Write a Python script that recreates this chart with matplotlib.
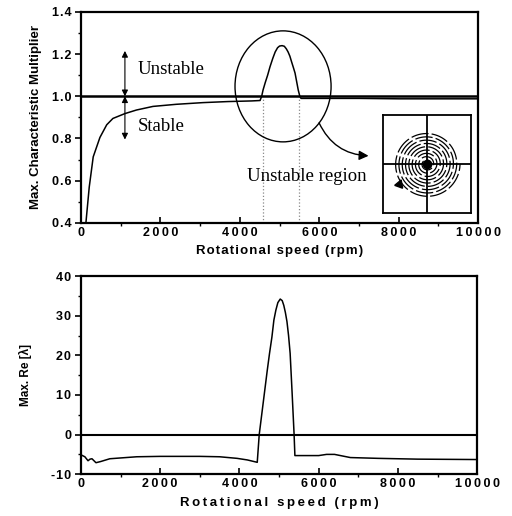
import numpy as np
import matplotlib
matplotlib.use("Agg")
import matplotlib.pyplot as plt
from matplotlib.patches import Ellipse, FancyArrowPatch
from matplotlib.ticker import FuncFormatter, MultipleLocator

# ---- data ----
rpm_top = [126, 210, 310, 479, 650, 806, 1108, 1400, 1814, 2400, 3073, 3700,
           4300, 4509, 4550, 4585, 4640, 4700, 4760, 4830, 4890, 4950, 5000,
           5063, 5120, 5170, 5215, 5260, 5300, 5350, 5390, 5430, 5470, 5510,
           5540, 6000, 7000, 8000, 9000, 10000]
val_top = [0.40, 0.57, 0.713, 0.805, 0.865, 0.895, 0.918, 0.935, 0.952, 0.962,
           0.970, 0.975, 0.978, 0.980, 1.0, 1.03, 1.065, 1.10, 1.14, 1.18,
           1.21, 1.23, 1.238, 1.24, 1.237, 1.225, 1.21, 1.19, 1.165, 1.135,
           1.11, 1.07, 1.03, 1.0, 0.99, 0.99, 0.99, 0.988, 0.988, 0.988]

rpm_bot = [0, 100, 180, 230, 280, 330, 380, 500, 730, 1000, 1410, 2000, 3000,
           3500, 3940, 4200, 4450, 4500, 4600, 4700, 4760, 4820, 4870, 4920,
           4970, 5030, 5080, 5120, 5160, 5200, 5240, 5280, 5330, 5380, 5400,
           5700, 6000, 6200, 6400, 6600, 6800, 7500, 8500, 10000]
val_bot = [-5.1, -5.6, -6.6, -6.2, -6.1, -6.6, -7.1, -6.8, -6.1, -5.9, -5.6,
           -5.5, -5.5, -5.6, -6.0, -6.4, -7.0, 0.0, 8, 16, 20.5, 24.6, 28.9,
           31.4, 33.3, 34.2, 33.8, 32.6, 30.8, 28.5, 25.0, 20.5, 10.5, 0.0,
           -5.3, -5.3, -5.3, -5.0, -5.0, -5.4, -5.8, -6.0, -6.2, -6.3]

x_ticks = [0, 2000, 4000, 6000, 8000, 10000]
y_ticks_top = [0.4, 0.6, 0.8, 1.0, 1.2, 1.4]
y_ticks_bot = [-10, 0, 10, 20, 30, 40]
unstable_bounds = [4585, 5490]

SANS = ['Liberation Sans', 'DejaVu Sans']
SERIF = ['Liberation Serif', 'DejaVu Serif']
HAIR = '\u200a'
THIN = '\u2009'


def spaced(s, sep):
    return sep.join(list(s))


fig = plt.figure(figsize=(5.12, 5.16), dpi=100)
ax1 = fig.add_axes([0.158, 0.568, 0.776, 0.409])
ax2 = fig.add_axes([0.158, 0.081, 0.774, 0.384])

for ax in (ax1, ax2):
    for sp in ax.spines.values():
        sp.set_linewidth(1.6)
    ax.tick_params(axis='x', direction='in', length=4, width=1.2, pad=3)
    ax.tick_params(axis='y', direction='out', length=4, width=1.2, pad=3)
    ax.tick_params(which='minor', length=2.5, width=1.0)
    ax.set_xlim(0, 10000)
    ax.set_xticks(x_ticks)
    ax.xaxis.set_minor_locator(MultipleLocator(1000))
    ax.xaxis.set_major_formatter(FuncFormatter(lambda v, p: spaced(f"{int(v)}", THIN)))

# ---- top ----
ax1.set_ylim(0.4, 1.4)
ax1.set_yticks(y_ticks_top)
ax1.yaxis.set_minor_locator(MultipleLocator(0.1))
ax1.yaxis.set_major_formatter(FuncFormatter(lambda v, p: spaced(f"{v:.1f}", HAIR)))
ax1.axhline(1.0, color='black', lw=1.8, zorder=3)
ax1.plot(rpm_top, val_top, color='black', lw=1.1, zorder=4)
for xb in unstable_bounds:
    ax1.plot([xb, xb], [0.4, 0.99], color='#888888', lw=0.9, ls=':', zorder=2)
ax1.add_patch(Ellipse((5088, 1.047), 2418, 0.526, fill=False, color='black', lw=1.0, zorder=5))

ax1.annotate('', xy=(1108, 1.215), xytext=(1108, 1.0),
             arrowprops=dict(arrowstyle='<|-|>', color='black', lw=0.8,
                             mutation_scale=9, shrinkA=0, shrinkB=0))
ax1.annotate('', xy=(1108, 0.795), xytext=(1108, 1.0),
             arrowprops=dict(arrowstyle='<|-|>', color='black', lw=0.8,
                             mutation_scale=9, shrinkA=0, shrinkB=0))
ax1.text(1420, 1.125, 'Unstable', family=SERIF, fontsize=13.5, va='center', ha='left')
ax1.text(1420, 0.855, 'Stable', family=SERIF, fontsize=13.5, va='center', ha='left')
ax1.text(5680, 0.62, 'Unstable region', family=SERIF, fontsize=13.5, va='center', ha='center')

arr = FancyArrowPatch((5995, 0.874), (7240, 0.718), connectionstyle='arc3,rad=0.3',
                      arrowstyle='-|>', mutation_scale=14, color='black', lw=1.0,
                      shrinkA=0, shrinkB=0, zorder=6)
ax1.add_patch(arr)

ax1.set_ylabel('Max. Characteristic Multiplier', family=SANS, fontweight='bold',
               fontsize=9.5, labelpad=7)
ax1.set_xlabel(spaced('Rotational speed (rpm)', HAIR), family=SANS,
               fontweight='bold', fontsize=9.5, labelpad=4)

# ---- inset (orbit) ----
axi = fig.add_axes([0.748, 0.587, 0.172, 0.190])
axi.set_xlim(-44, 44)
axi.set_ylim(-49, 49)
axi.set_xticks([])
axi.set_yticks([])
for sp in axi.spines.values():
    sp.set_linewidth(1.3)
axi.axhline(0, color='black', lw=1.3)
axi.axvline(0, color='black', lw=1.3)
theta = np.linspace(0, 2 * np.pi * 10, 4000)
r = 33 * theta / theta[-1]
axi.plot(r * np.cos(theta), r * np.sin(theta), color='black', lw=0.9,
         ls=(0, (14, 2.5)))
axi.plot([0], [0], 'o', color='black', ms=6)
axi.plot([-28], [-20], marker=(3, 0, 100), color='black', ms=7)

# ---- bottom ----
ax2.set_ylim(-10, 40)
ax2.set_yticks(y_ticks_bot)
ax2.yaxis.set_minor_locator(MultipleLocator(5))
ax2.yaxis.set_major_formatter(FuncFormatter(lambda v, p: spaced(f"{int(v)}", HAIR)))
ax2.axhline(0, color='black', lw=1.5, zorder=3)
ax2.plot(rpm_bot, val_bot, color='black', lw=1.1, zorder=4)
ax2.set_ylabel('Max. Re [λ]', family=SANS, fontweight='bold', fontsize=8.5, labelpad=14)
ax2.set_xlabel(spaced('Rotational speed (rpm)', THIN), family=SANS,
               fontweight='bold', fontsize=9.5, labelpad=5)

for ax in (ax1, ax2):
    for lab in ax.get_xticklabels() + ax.get_yticklabels():
        lab.set_fontfamily(SANS)
        lab.set_fontweight('bold')
        lab.set_fontsize(9)

fig.savefig('out.png', dpi=100)
